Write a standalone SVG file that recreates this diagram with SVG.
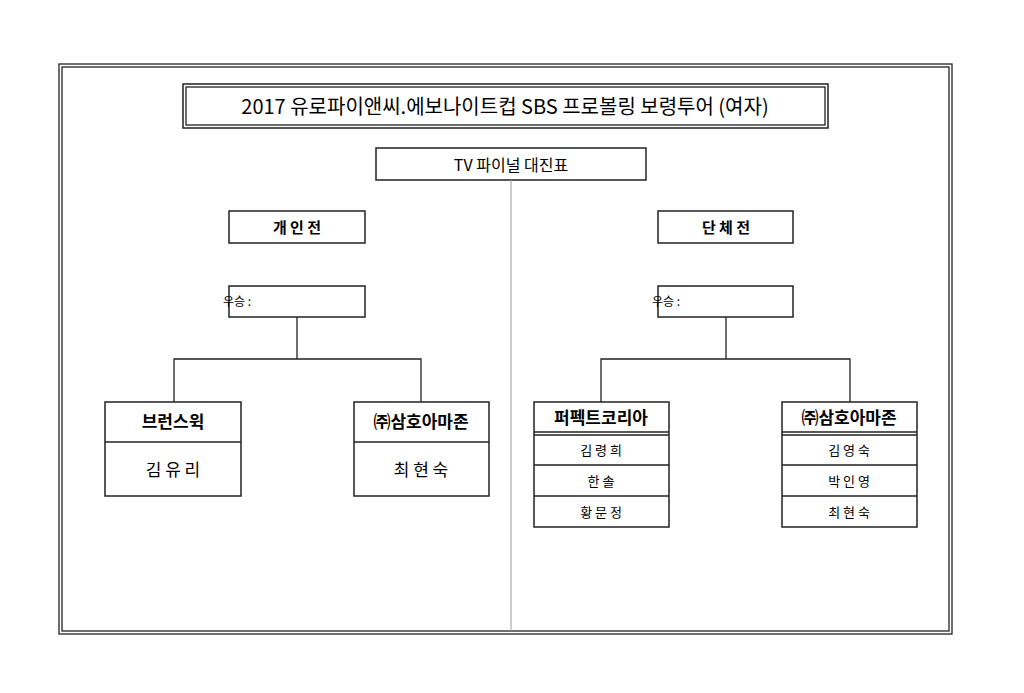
<svg xmlns="http://www.w3.org/2000/svg" width="1024" height="693" viewBox="0 0 1024 693">
<style>
.b{fill:#fff;stroke:#222;stroke-width:1.5}
.l{fill:none;stroke:#222;stroke-width:1.3}
text{font-family:"Noto Sans CJK KR","Noto Sans",sans-serif;fill:#000;text-anchor:middle}
.h{font-size:17px;font-weight:bold}
.n{font-size:13px}
</style>
<rect width="1024" height="693" fill="#fff"/>
<rect x="59" y="64" width="893" height="570" class="l" stroke-width="1.5"/>
<rect x="62" y="67" width="887" height="564" class="l"/>
<g id="title"><rect x="183" y="84" width="645" height="44" class="b"/><rect x="186" y="87" width="639" height="38" class="l"/><text x="505" y="114" font-size="20">2017 유로파이앤씨.에보나이트컵 SBS 프로볼링 보령투어 (여자)</text></g>
<g id="tv"><rect x="376" y="148" width="270" height="32" class="b"/><text x="511" y="171" font-size="16">TV 파이널 대진표</text></g>
<g id="connectors">
<line x1="511" y1="180" x2="511" y2="631" stroke="#999" stroke-width="1"/>
<path class="l" d="M297 317V359M174 402V359H421V402M726 317V359M601 402V359H850V402"/>
</g>
<g id="indiv"><rect x="229" y="211" width="136" height="32" class="b"/><text x="297" y="233" font-size="15" font-weight="bold">개  인  전</text></g>
<g id="team"><rect x="658" y="211" width="135" height="32" class="b"/><text x="726" y="233" font-size="15" font-weight="bold">단  체  전</text></g>
<g id="win1"><rect x="229" y="286" width="136" height="31" class="b"/><text x="237" y="306" font-size="12" text-anchor="start">우승 :</text></g>
<g id="win2"><rect x="658" y="286" width="135" height="31" class="b"/><text x="666" y="306" font-size="12" text-anchor="start">우승 :</text></g>
<g id="p1"><rect x="105" y="402" width="136" height="94" class="b"/><line x1="105" y1="442" x2="241" y2="442" class="l"/><text x="173" y="428" class="h">브런스윅</text><text x="173" y="476" font-size="17">김 유 리</text></g>
<g id="p2"><rect x="354" y="402" width="135" height="94" class="b"/><line x1="354" y1="442" x2="489" y2="442" class="l"/><text x="421" y="428" class="h">㈜삼호아마존</text><text x="421" y="476" font-size="17">최 현 숙</text></g>
<g id="t1"><rect x="534" y="402" width="135" height="125" class="b"/><path class="l" d="M534 432H669M534 435H669M534 465H669M534 496H669"/><text x="601" y="424" class="h">퍼펙트코리아</text><text x="601" y="455" class="n">김 령 희</text><text x="601" y="486" class="n">한    솔</text><text x="601" y="517" class="n">황 문 정</text></g>
<g id="t2"><rect x="782" y="402" width="135" height="125" class="b"/><path class="l" d="M782 432H917M782 435H917M782 465H917M782 496H917"/><text x="849" y="424" class="h">㈜삼호아마존</text><text x="849" y="455" class="n">김 영 숙</text><text x="849" y="486" class="n">박 인 영</text><text x="849" y="517" class="n">최 현 숙</text></g>
</svg>
